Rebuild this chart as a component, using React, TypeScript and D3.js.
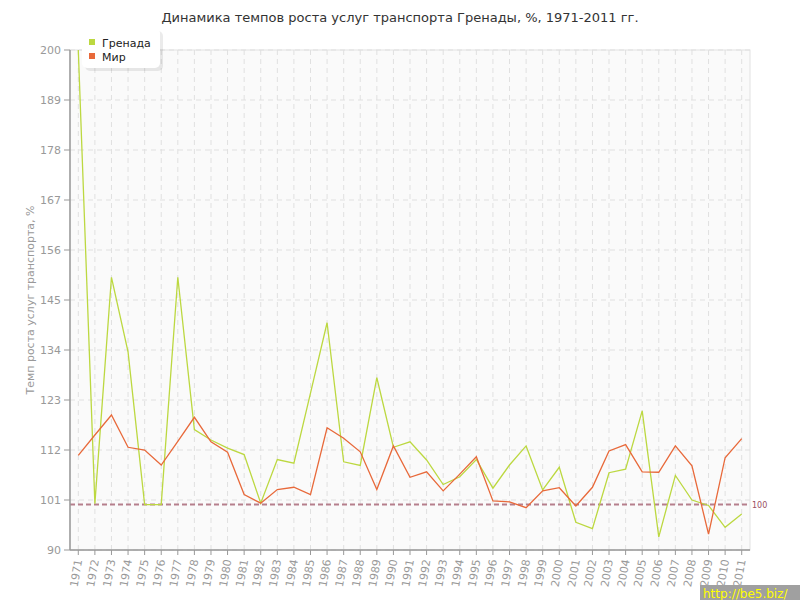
import React from "react";
import * as d3 from "d3";

const years: string[] = d3.range(1971, 2012).map(String);
const grenada: number[] = [
  200, 100.2, 150, 133.6, 100, 100, 150, 116.5, 114.2, 112.4,
  111.0, 100.3, 109.9, 109.1, 124.5, 140.0, 109.4, 108.6, 127.9, 112.6,
  113.8, 109.8, 104.4, 106.1, 109.9, 103.6, 108.7, 112.9, 103.2, 108.2,
  96.1, 94.7, 107.0, 107.8, 120.6, 92.9, 106.4, 101.0, 99.8, 95.0,
  97.9,
];
const world: number[] = [
  110.8, 115.3, 119.7, 112.6, 112.0, 108.7, 113.9, 119.2, 113.8, 111.5,
  102.2, 100.3, 103.3, 103.8, 102.2, 116.9, 114.6, 111.6, 103.3, 112.9,
  106.0, 107.2, 103.0, 106.7, 110.5, 100.8, 100.6, 99.3, 103.0, 103.7,
  99.7, 103.8, 111.8, 113.2, 107.2, 107.1, 112.9, 108.5, 93.5, 110.3,
  114.5,
];
const yTicks: number[] = [90, 101, 112, 123, 134, 145, 156, 167, 178, 189, 200];
const seriesNames: string[] = ["Гренада", "Мир"];
const seriesColors: string[] = ["#bcd840", "#e8693a"];
const baseline = 100;

export default function App() {
  const left = 70, right = 750, top = 50, bottom = 550;
  const x = d3.scalePoint<string>().domain(years).range([left, right]).padding(0.5);
  const y = d3.scaleLinear().domain([90, 200]).range([bottom, top]);
  const line = d3
    .line<number>()
    .x((_, i) => x(years[i]) as number)
    .y((d) => y(d));
  const font = "DejaVu Sans, Verdana, sans-serif";
  return (
    <svg width={800} height={600} style={{ position: "absolute", left: 0, top: 0 }} fontFamily={font}>
      <rect x={0} y={0} width={800} height={600} fill="#ffffff" />
      <text x={400} y={22} textAnchor="middle" fontSize={13} fill="#333">
        Динамика темпов роста услуг транспорта Гренады, %, 1971-2011 гг.
      </text>
      <rect x={left} y={top} width={right - left} height={bottom - top} fill="#fafafa" stroke="#e2e2e2" />
      {years.map((yr) => (
        <line key={"vg" + yr} x1={x(yr)} x2={x(yr)} y1={top} y2={bottom} stroke="#e0e0e0" strokeDasharray="5,4" />
      ))}
      {yTicks.map((t) => (
        <line key={"hg" + t} x1={left} x2={right} y1={y(t)} y2={y(t)} stroke="#e0e0e0" strokeDasharray="5,4" />
      ))}
      <line x1={left} x2={right} y1={y(baseline)} y2={y(baseline)} stroke="#b57f8c" strokeWidth={2} strokeDasharray="5,3" />
      <text x={right + 2} y={y(baseline) + 3} fontSize={8} fill="#9a4f62">100</text>
      <path d={line(grenada) || ""} fill="none" stroke={seriesColors[0]} strokeWidth={1.3} />
      <path d={line(world) || ""} fill="none" stroke={seriesColors[1]} strokeWidth={1.3} />
      <line x1={left} x2={left} y1={top} y2={bottom} stroke="#999" strokeWidth={1.5} />
      <line x1={left} x2={right} y1={bottom} y2={bottom} stroke="#999" strokeWidth={1.5} />
      {yTicks.map((t) => (
        <g key={"yt" + t}>
          <line x1={left - 6} x2={left} y1={y(t)} y2={y(t)} stroke="#999" />
          <text x={left - 9} y={y(t) + 4} textAnchor="end" fontSize={11} fill="#999">
            {t}
          </text>
        </g>
      ))}
      {years.map((yr) => (
        <g key={"xt" + yr}>
          <line x1={x(yr)} x2={x(yr)} y1={bottom} y2={bottom + 5} stroke="#999" />
          <text
            transform={`translate(${(x(yr) as number) + 4},${bottom + 10}) rotate(-80)`}
            textAnchor="end"
            fontSize={11}
            fill="#999"
          >
            {yr}
          </text>
        </g>
      ))}
      <text transform={`translate(34,${(top + bottom) / 2}) rotate(-90)`} textAnchor="middle" fontSize={11} fill="#999">
        Темп роста услуг транспорта, %
      </text>
      <g>
        <rect x={84} y={30} width={78} height={40} rx={5} fill="#000" opacity={0.08} transform="translate(1,1)" />
        <rect x={82} y={28} width={78} height={40} rx={5} fill="#ffffff" />
        {seriesNames.map((n, i) => (
          <g key={n}>
            <rect x={89} y={39 + i * 14} width={6} height={6} fill={seriesColors[i]} />
            <text x={102} y={47 + i * 14} fontSize={11} fill="#222">
              {n}
            </text>
          </g>
        ))}
      </g>
      <rect x={700} y={585} width={100} height={15} fill="#a0a0a0" />
      <text x={703} y={598} fontSize={12} fill="#ffff00">http://be5.biz/</text>
    </svg>
  );
}
